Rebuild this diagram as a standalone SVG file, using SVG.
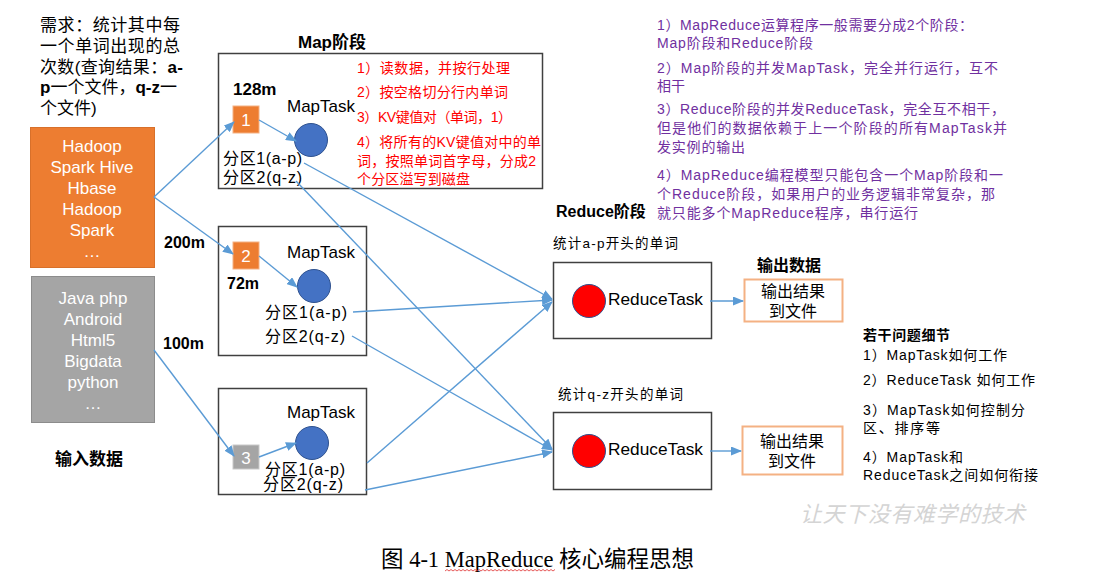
<svg xmlns="http://www.w3.org/2000/svg" width="1115" height="572" viewBox="0 0 1115 572">
<style>
text{font-family:"Liberation Sans","Noto Sans CJK SC",sans-serif;}
.b{font-weight:bold;}
.t17{font-size:17px;}
.t16{font-size:16px;}
.t14{font-size:14px;}
.t13{font-size:13.5px;}
.w{fill:#ffffff;}
.red{fill:#FF0000;font-size:14px;}
.pur{fill:#7030A0;font-size:14px;}
.mapbox{fill:#ffffff;stroke:#404040;stroke-width:1.5;}
.redbox{fill:#ffffff;stroke:#404040;stroke-width:1.5;}
.outbox{fill:#ffffff;stroke:#F4B183;stroke-width:2;}
.conn{stroke:#5B9BD5;stroke-width:1.4;fill:none;marker-end:url(#ah);}
.mcirc{fill:#4472C4;stroke:#2F528F;stroke-width:1;}
.rcirc{fill:#FF0000;stroke:#2F528F;stroke-width:1;}
.mid{text-anchor:middle;}
</style>
<defs>
<marker id="ah" markerWidth="11" markerHeight="9" refX="10" refY="4.5" orient="auto" markerUnits="userSpaceOnUse">
<path d="M0,0 L11,4.5 L0,9 z" fill="#5B9BD5"/>
</marker>
</defs>
<rect width="1115" height="572" fill="#ffffff"/>

<g id="requirement">
<text class="t17" x="40" y="31" textLength="140" lengthAdjust="spacing">需求：统计其中每</text>
<text class="t17" x="40" y="52" textLength="140" lengthAdjust="spacing">一个单词出现的总</text>
<text class="t17" x="40" y="73" textLength="143" lengthAdjust="spacing">次数(查询结果：<tspan class="b">a-</tspan></text>
<text class="t17" x="40" y="93" textLength="137" lengthAdjust="spacing"><tspan class="b">p</tspan>一个文件，<tspan class="b">q-z</tspan>一</text>
<text class="t17" x="40" y="114">个文件)</text>
</g>

<g id="input1">
<rect x="30.5" y="127.5" width="124" height="140" fill="#ED7D31" stroke="#D8702A" stroke-width="1"/>
<text class="t17 w mid" x="92" y="152">Hadoop</text>
<text class="t17 w mid" x="92" y="173">Spark Hive</text>
<text class="t17 w mid" x="92" y="194">Hbase</text>
<text class="t17 w mid" x="92" y="215">Hadoop</text>
<text class="t17 w mid" x="92" y="236">Spark</text>
<text class="t17 w mid" x="92" y="257">…</text>
</g>

<g id="input2">
<rect x="31.5" y="276.5" width="123" height="146" fill="#A5A5A5" stroke="#8C8C8C" stroke-width="1"/>
<text class="t17 w mid" x="93" y="304">Java php</text>
<text class="t17 w mid" x="93" y="325">Android</text>
<text class="t17 w mid" x="93" y="346">Html5</text>
<text class="t17 w mid" x="93" y="367">Bigdata</text>
<text class="t17 w mid" x="93" y="388">python</text>
<text class="t17 w mid" x="93" y="409">…</text>
</g>

<g id="input-label">
<text class="t17 b" x="55" y="465">输入数据</text>
<text class="t16 b" x="164" y="248">200m</text>
<text class="t16 b" x="163" y="349">100m</text>
</g>

<g id="map1">
<text class="t17 b" x="298" y="48">Map阶段</text>
<rect class="mapbox" x="218.5" y="53.5" width="324" height="135" stroke="#1a1a1a"/>
<text class="t17 b" x="233" y="95">128m</text>
<rect x="233" y="106" width="26" height="27" fill="#ED7D31" stroke="#F4B183" stroke-width="1"/>
<text class="t17 w mid" x="246" y="126">1</text>
<text class="t17" x="287" y="112">MapTask</text>
<circle class="mcirc" cx="311" cy="140" r="16.5"/>
<text class="t16" x="223" y="164" textLength="79" lengthAdjust="spacing">分区1(a-p)</text>
<text class="t16" x="223" y="183" textLength="79" lengthAdjust="spacing">分区2(q-z)</text>
<text class="red" x="357" y="73" textLength="153" lengthAdjust="spacing">1）读数据，并按行处理</text>
<text class="red" x="357" y="97" textLength="151" lengthAdjust="spacing">2）按空格切分行内单词</text>
<text class="red" x="357" y="122" textLength="155" lengthAdjust="spacing">3）KV键值对（单词，1）</text>
<text class="red" x="357" y="147" textLength="184" lengthAdjust="spacing">4）将所有的KV键值对中的单</text>
<text class="red" x="357" y="166" textLength="179" lengthAdjust="spacing">词，按照单词首字母，分成2</text>
<text class="red" x="357" y="184" textLength="113" lengthAdjust="spacing">个分区溢写到磁盘</text>
</g>

<g id="map2">
<rect class="mapbox" x="218.5" y="226.5" width="148" height="129"/>
<rect x="233" y="242" width="26" height="27" fill="#ED7D31" stroke="#F4B183" stroke-width="1"/>
<text class="t17 w mid" x="246" y="262">2</text>
<text class="t16 b" x="227" y="289">72m</text>
<text class="t17" x="287" y="258">MapTask</text>
<circle class="mcirc" cx="314" cy="286" r="16.5"/>
<text class="t16" x="265" y="318" textLength="82" lengthAdjust="spacing">分区1(a-p)</text>
<text class="t16" x="265" y="342" textLength="80" lengthAdjust="spacing">分区2(q-z)</text>
</g>

<g id="map3">
<rect class="mapbox" x="218.5" y="388.5" width="148" height="106"/>
<rect x="233" y="445" width="26" height="24" fill="#A5A5A5" stroke="#C9C9C9" stroke-width="1"/>
<text class="t17 w mid" x="246" y="464">3</text>
<text class="t17" x="287" y="418">MapTask</text>
<circle class="mcirc" cx="312" cy="443" r="16.5"/>
<text class="t16" x="265" y="475" textLength="80" lengthAdjust="spacing">分区1(a-p)</text>
<text class="t16" x="263" y="490" textLength="80" lengthAdjust="spacing">分区2(q-z)</text>
</g>

<g id="reduce-label">
<text class="t16 b" x="556" y="217">Reduce阶段</text>
</g>

<g id="reduce1">
<text class="t13" x="553" y="248" textLength="125" lengthAdjust="spacing">统计a-p开头的单词</text>
<rect class="redbox" x="553.5" y="262.5" width="158" height="76"/>
<circle class="rcirc" cx="589" cy="301" r="16.5"/>
<text class="t17" x="608" y="305" textLength="95" lengthAdjust="spacingAndGlyphs">ReduceTask</text>
</g>

<g id="reduce2">
<text class="t13" x="558" y="399" textLength="125" lengthAdjust="spacing">统计q-z开头的单词</text>
<rect class="redbox" x="553.5" y="412.5" width="158" height="77"/>
<circle class="rcirc" cx="589" cy="451" r="16.5"/>
<text class="t17" x="608" y="455" textLength="95" lengthAdjust="spacingAndGlyphs">ReduceTask</text>
</g>

<g id="output1">
<text class="t16 b" x="757" y="271">输出数据</text>
<rect class="outbox" x="744.5" y="279.5" width="98" height="42"/>
<text class="t16 mid" x="793" y="297">输出结果</text>
<text class="t16 mid" x="793" y="317">到文件</text>
</g>

<g id="output2">
<rect class="outbox" x="742.5" y="426.5" width="100" height="48"/>
<text class="t16 mid" x="792" y="447">输出结果</text>
<text class="t16 mid" x="792" y="467">到文件</text>
</g>

<g id="notes">
<text class="pur" x="657" y="30" textLength="316" lengthAdjust="spacing">1）MapReduce运算程序一般需要分成2个阶段：</text>
<text class="pur" x="657" y="48" textLength="156" lengthAdjust="spacing">Map阶段和Reduce阶段</text>
<text class="pur" x="657" y="73" textLength="341" lengthAdjust="spacing">2）Map阶段的并发MapTask，完全并行运行，互不</text>
<text class="pur" x="657" y="91">相干</text>
<text class="pur" x="657" y="114" textLength="348" lengthAdjust="spacing">3）Reduce阶段的并发ReduceTask，完全互不相干，</text>
<text class="pur" x="657" y="133" textLength="350" lengthAdjust="spacing">但是他们的数据依赖于上一个阶段的所有MapTask并</text>
<text class="pur" x="657" y="152" textLength="88" lengthAdjust="spacing">发实例的输出</text>
<text class="pur" x="657" y="180" textLength="346" lengthAdjust="spacing">4）MapReduce编程模型只能包含一个Map阶段和一</text>
<text class="pur" x="657" y="199" textLength="338" lengthAdjust="spacing">个Reduce阶段，如果用户的业务逻辑非常复杂，那</text>
<text class="pur" x="657" y="218" textLength="261" lengthAdjust="spacing">就只能多个MapReduce程序，串行运行</text>
</g>

<g id="questions">
<text class="t14 b" x="863" y="340" textLength="87" lengthAdjust="spacing">若干问题细节</text>
<text class="t14" x="863" y="360" textLength="144" lengthAdjust="spacing">1）MapTask如何工作</text>
<text class="t14" x="863" y="385" textLength="172" lengthAdjust="spacing">2）ReduceTask 如何工作</text>
<text class="t14" x="863" y="415" textLength="162" lengthAdjust="spacing">3）MapTask如何控制分</text>
<text class="t14" x="863" y="433" textLength="77" lengthAdjust="spacing">区、排序等</text>
<text class="t14" x="863" y="462" textLength="100" lengthAdjust="spacing">4）MapTask和</text>
<text class="t14" x="863" y="480" textLength="175" lengthAdjust="spacing">ReduceTask之间如何衔接</text>
</g>

<g id="connectors">
<line class="conn" x1="154" y1="197" x2="234" y2="122"/>
<line class="conn" x1="154" y1="197" x2="233" y2="254"/>
<line class="conn" x1="154" y1="350" x2="234" y2="456"/>
<line class="conn" x1="259" y1="120" x2="296" y2="141"/>
<line class="conn" x1="259" y1="256" x2="297" y2="287"/>
<line class="conn" x1="259" y1="457" x2="296" y2="443"/>
<line class="conn" x1="304" y1="163" x2="552" y2="299"/>
<line class="conn" x1="296" y1="181" x2="552" y2="449"/>
<line class="conn" x1="353" y1="312" x2="552" y2="300"/>
<line class="conn" x1="352" y1="336" x2="552" y2="450"/>
<line class="conn" x1="367" y1="463" x2="552" y2="302"/>
<line class="conn" x1="365" y1="490" x2="552" y2="452"/>
<line class="conn" x1="710" y1="301" x2="743" y2="301"/>
<line class="conn" x1="710" y1="451" x2="741" y2="451"/>
</g>

<g id="watermark">
<text x="800" y="522" font-size="22" fill="#D4D4D4" font-style="italic" textLength="225" lengthAdjust="spacing" style="font-family:'Noto Sans CJK SC',sans-serif">让天下没有难学的技术</text>
</g>

<g id="caption">
<text x="381" y="567" font-size="22.5" fill="#000000" style="font-family:'Liberation Serif','Noto Sans CJK SC',serif">图 4-1 MapReduce 核心编程思想</text>
<path d="M445,571 l2,-1.5 l2,1.5 l2,-1.5 l2,1.5 l2,-1.5 l2,1.5 l2,-1.5 l2,1.5 l2,-1.5 l2,1.5 l2,-1.5 l2,1.5 l2,-1.5 l2,1.5 l2,-1.5 l2,1.5 l2,-1.5 l2,1.5 l2,-1.5 l2,1.5 l2,-1.5 l2,1.5 l2,-1.5 l2,1.5 l2,-1.5 l2,1.5 l2,-1.5 l2,1.5 l2,-1.5 l2,1.5 l2,-1.5 l2,1.5 l2,-1.5 l2,1.5 l2,-1.5 l2,1.5 l2,-1.5 l2,1.5 l2,-1.5 l2,1.5 l2,-1.5 l2,1.5 l2,-1.5 l2,1.5 l2,-1.5 l2,1.5 l2,-1.5 l2,1.5 l2,-1.5 l2,1.5 l2,-1.5 l2,1.5 l2,-1.5 l2,1.5 l2,-1.5" fill="none" stroke="#E03030" stroke-width="0.8"/>
</g>
</svg>
